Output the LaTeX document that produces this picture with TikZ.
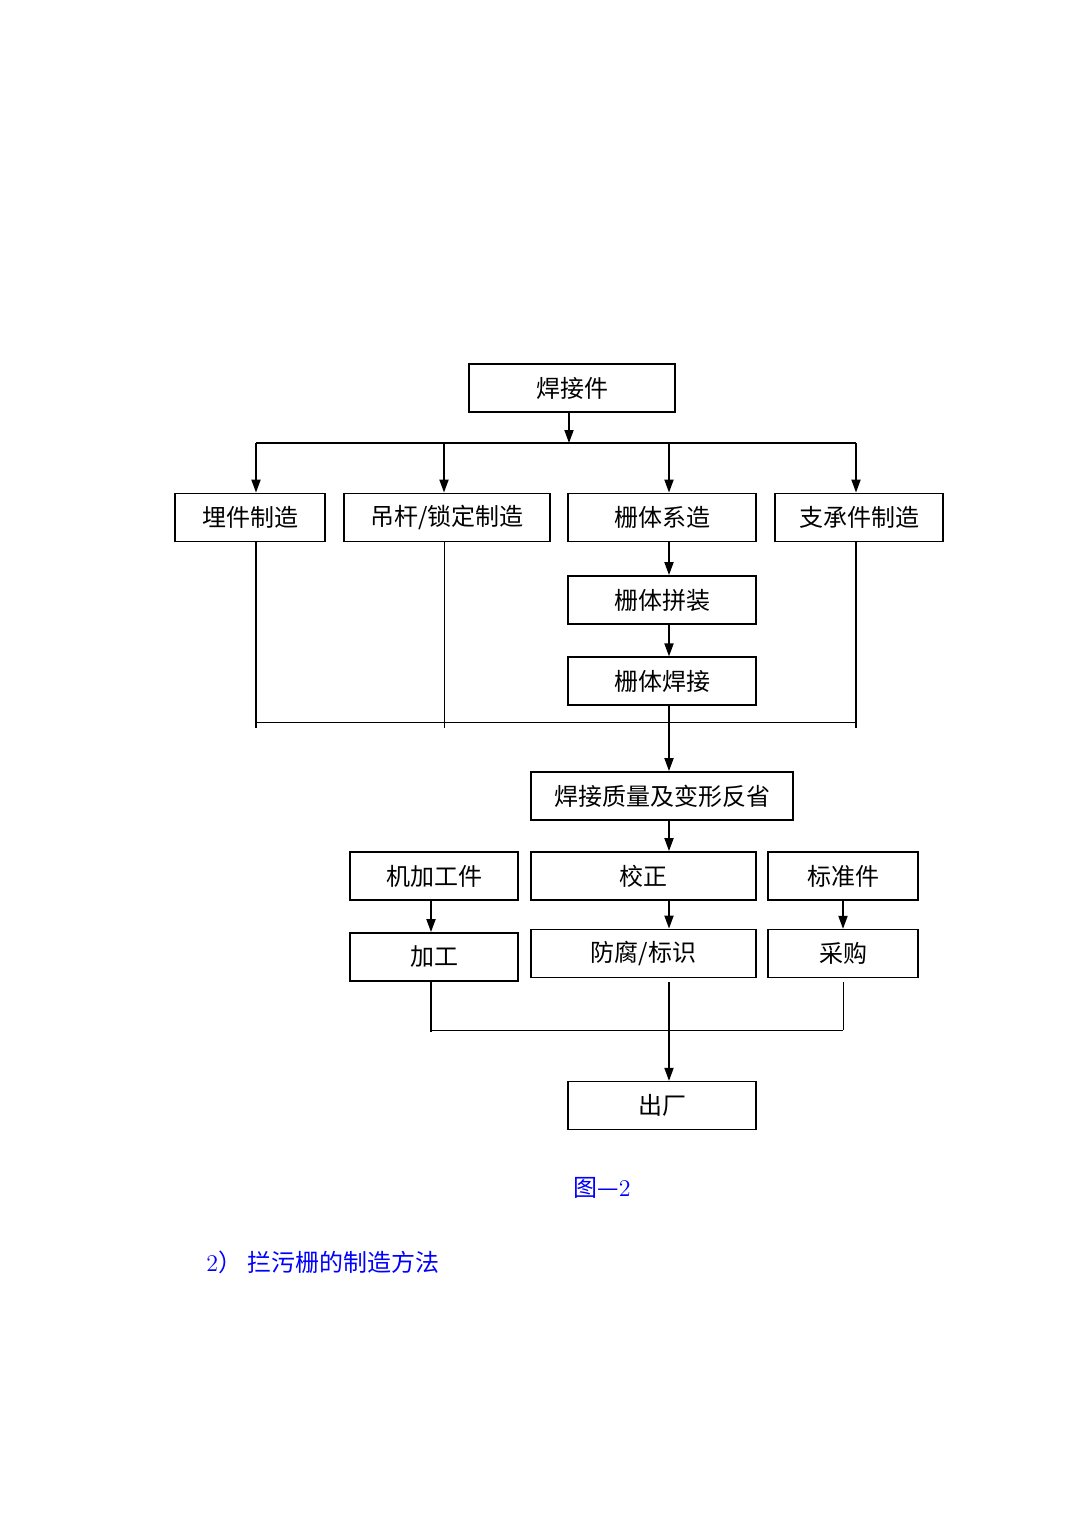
\documentclass[tikz,border=0pt]{standalone}
\usepackage{fontspec}
\newfontfamily\cjk{Noto Sans CJK SC}
\usetikzlibrary{arrows.meta}

\begin{document}
\begin{tikzpicture}[x=0.5pt, y=-0.5pt,
    box/.style={draw, line width=0.9pt, inner sep=0pt, minimum height=24pt,
      font=\cjk\fontsize{12}{12}\selectfont},
    thinbox/.style={box, line width=0.6pt},
    arr/.style={-{Triangle[length=6.5pt, width=4.5pt]}, line width=0.9pt},
    link/.style={line width=0.5pt},
    note/.style={text=blue, inner sep=0pt, font=\fontsize{12}{12}\selectfont}]
  \useasboundingbox (0,0) rectangle (1087,1536);

  % Top box
  \node[thinbox, minimum width=103pt] (hjj) at (572,388) {焊接件};

  % First row
  \node[box, minimum width=75pt]  (mj) at (250,517.5) {埋件制造};
  \node[box, minimum width=103pt] (dg) at (447,517.5) {吊杆/锁定制造};
  \node[box, minimum width=94pt]  (sx) at (662,517.5) {栅体系造};
  \node[box, minimum width=84pt]  (zc) at (859,517.5) {支承件制造};

  \node[box, minimum width=94pt] (pz) at (662,600) {栅体拼装};
  \node[thinbox, minimum width=94pt] (hj) at (662,681) {栅体焊接};

  \node[box, minimum width=131pt] (zl) at (662,796) {焊接质量及变形反省};

  % Second row
  \node[box, minimum width=84pt]    (jg) at (434,876) {机加工件};
  \node[box, minimum width=112.5pt] (jz) at (643.5,876) {校正};
  \node[box, minimum width=75pt]    (bz) at (843,876) {标准件};

  \node[box, minimum width=84pt]    (gj) at (434,957) {加工};
  \node[box, minimum width=112.5pt] (ff) at (643.5,953.5) {防腐/标识};
  \node[thinbox, minimum width=75pt] (cg) at (843,953.5) {采购};

  \node[thinbox, minimum width=94pt] (cc) at (662,1105.5) {出厂};

  % Bus points
  \coordinate (t0) at (569,443);
  \coordinate (tA) at (256,443);
  \coordinate (tB) at (444,443);
  \coordinate (tC) at (669,443);
  \coordinate (tD) at (856,443);
  \coordinate (mA) at (256,728);
  \coordinate (mB) at (444,728);
  \coordinate (mC) at (669,722);
  \coordinate (mD) at (856,728);
  \coordinate (lA) at (431,1032);
  \coordinate (lC) at (669,1030);
  \coordinate (lD) at (843,1030);

  % Distribution
  \draw[arr] (t0 |- hjj.south) -- (t0);
  \draw[line width=0.9pt] (tA) -- (tD);
  \foreach \c/\n in {tA/mj, tB/dg, tC/sx, tD/zc}
    \draw[arr] (\c) -- (\c |- \n.north);

  \draw[arr] (tC |- sx.south) -- (tC |- pz.north);
  \draw[arr] (tC |- pz.south) -- (tC |- hj.north);

  % Collect
  \draw[line width=0.9pt] (mA |- mj.south) -- (mA);
  \draw[link] (mB |- dg.south) -- (mB);
  \draw[line width=0.9pt] (mD |- zc.south) -- (mD);
  \draw[link] (mA |- mC) -- (mD |- mC);
  \draw[arr] (tC |- hj.south) -- (tC |- zl.north);

  \draw[arr] (tC |- zl.south) -- (tC |- jz.north);
  \draw[arr] (lA |- jg.south) -- (lA |- gj.north);
  \draw[arr] (tC |- jz.south) -- (tC |- ff.north);
  \draw[arr] (lD |- bz.south) -- (lD |- cg.north);

  % Lower collect
  \draw[line width=0.9pt] (lA |- gj.south) -- (lA);
  \draw[link] ([yshift=-2pt]lD |- cg.south) -- (lD);
  \draw[link] (lA |- lC) -- (lD);
  \draw[arr] ([yshift=-2pt]lC |- ff.south) -- (lC |- cc.north);

  % Caption and heading
  \node[note] (fig) at (602,1188) {{\cjk 图—}2};
  \node[note, anchor=west] (head) at (206,1262) {2{\cjk ）\ 拦污栅的制造方法}};
\end{tikzpicture}
\end{document}
